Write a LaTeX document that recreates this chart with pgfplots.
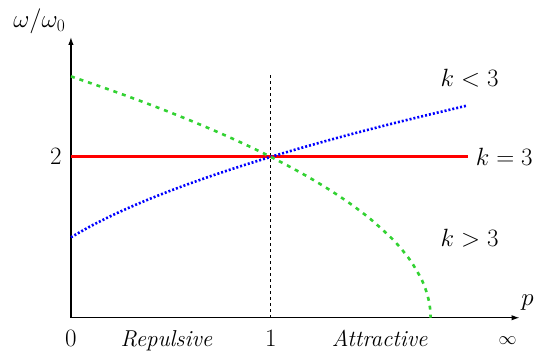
\documentclass[border=0pt]{standalone}
\usepackage{fix-cm}
\usepackage{pgfplots}
\pgfplotsset{compat=1.18}
\usetikzlibrary{arrows.meta}
\definecolor{mygreen}{RGB}{50,210,50}
\newcommand{\bigfnt}{\fontsize{23}{27}\selectfont}
\newcommand{\mathfnt}{\fontsize{25}{29}\selectfont}
\begin{document}
\begin{tikzpicture}
\begin{axis}[
  scale only axis, width=449pt, height=281pt,
  xmin=0, xmax=2.245, ymin=0, ymax=3.49,
  axis lines=left,
  axis line style={line width=1.3pt, -{Latex[length=8pt,width=5.5pt]}},
  xtick=\empty, ytick=\empty,
  clip=false,
]
\path (axis cs:-0.355,-0.4224) rectangle (axis cs:2.33,3.95);
\addplot[black, line width=0.7pt, dash pattern=on 3pt off 3pt] coordinates {(1,0) (1,3.05)};
\addplot[red, line width=2.8pt] coordinates {(0,2) (1.985,2)};
\addplot[blue, line width=2.6pt, dash pattern=on 2pt off 2pt, smooth] coordinates {
(0,1) (0.1,1.1402) (0.2,1.2649) (0.3,1.3784) (0.4,1.4832) (0.5,1.5811)
(0.6,1.6733) (0.7,1.7607) (0.8,1.8439) (0.9,1.9235) (1.0,2.0)
(1.1,2.0736) (1.2,2.1448) (1.3,2.2136) (1.4,2.2804) (1.5,2.3452)
(1.6,2.4083) (1.7,2.4698) (1.8,2.5298) (1.9,2.5884) (1.985,2.6393)};
\addplot[mygreen, line width=2.6pt, dash pattern=on 4pt off 5pt, smooth] coordinates {
(0,3) (0.1,2.9155) (0.2,2.8284) (0.3,2.7386) (0.4,2.6458) (0.5,2.5495)
(0.6,2.4495) (0.7,2.3452) (0.8,2.2361) (0.9,2.1213) (1.0,2.0)
(1.1,1.8708) (1.2,1.7321) (1.3,1.5811) (1.4,1.4142) (1.5,1.2247)
(1.6,1.0) (1.65,0.8660) (1.7,0.7071) (1.75,0.5) (1.775,0.3536)
(1.79,0.2236) (1.7975,0.1118) (1.8,0)};
\node[font=\mathfnt, anchor=base] at (axis cs:0,-0.36) {$0$};
\node[font=\mathfnt, anchor=base] at (axis cs:1,-0.36) {$1$};
\node[font=\fontsize{18}{21}\selectfont] at (axis cs:2.185,-0.29) {$\infty$};
\node[font=\mathfnt] at (axis cs:-0.075,2) {$2$};
\node[font=\bigfnt, anchor=base] at (axis cs:0.4775,-0.36) {\itshape Repulsive};
\node[font=\bigfnt, anchor=base] at (axis cs:1.545,-0.36) {\itshape Attractive};
\node[font=\mathfnt] at (axis cs:1.995,2.98) {$k<3$};
\node[font=\mathfnt, anchor=west, inner sep=1pt] at (axis cs:2.02,2) {$k=3$};
\node[font=\mathfnt] at (axis cs:1.995,0.994) {$k>3$};
\node[font=\mathfnt] at (axis cs:2.285,0.19) {$p$};
\node[font=\mathfnt] at (axis cs:-0.158,3.68) {$\omega/\omega_0$};
\end{axis}
\end{tikzpicture}
\end{document}
